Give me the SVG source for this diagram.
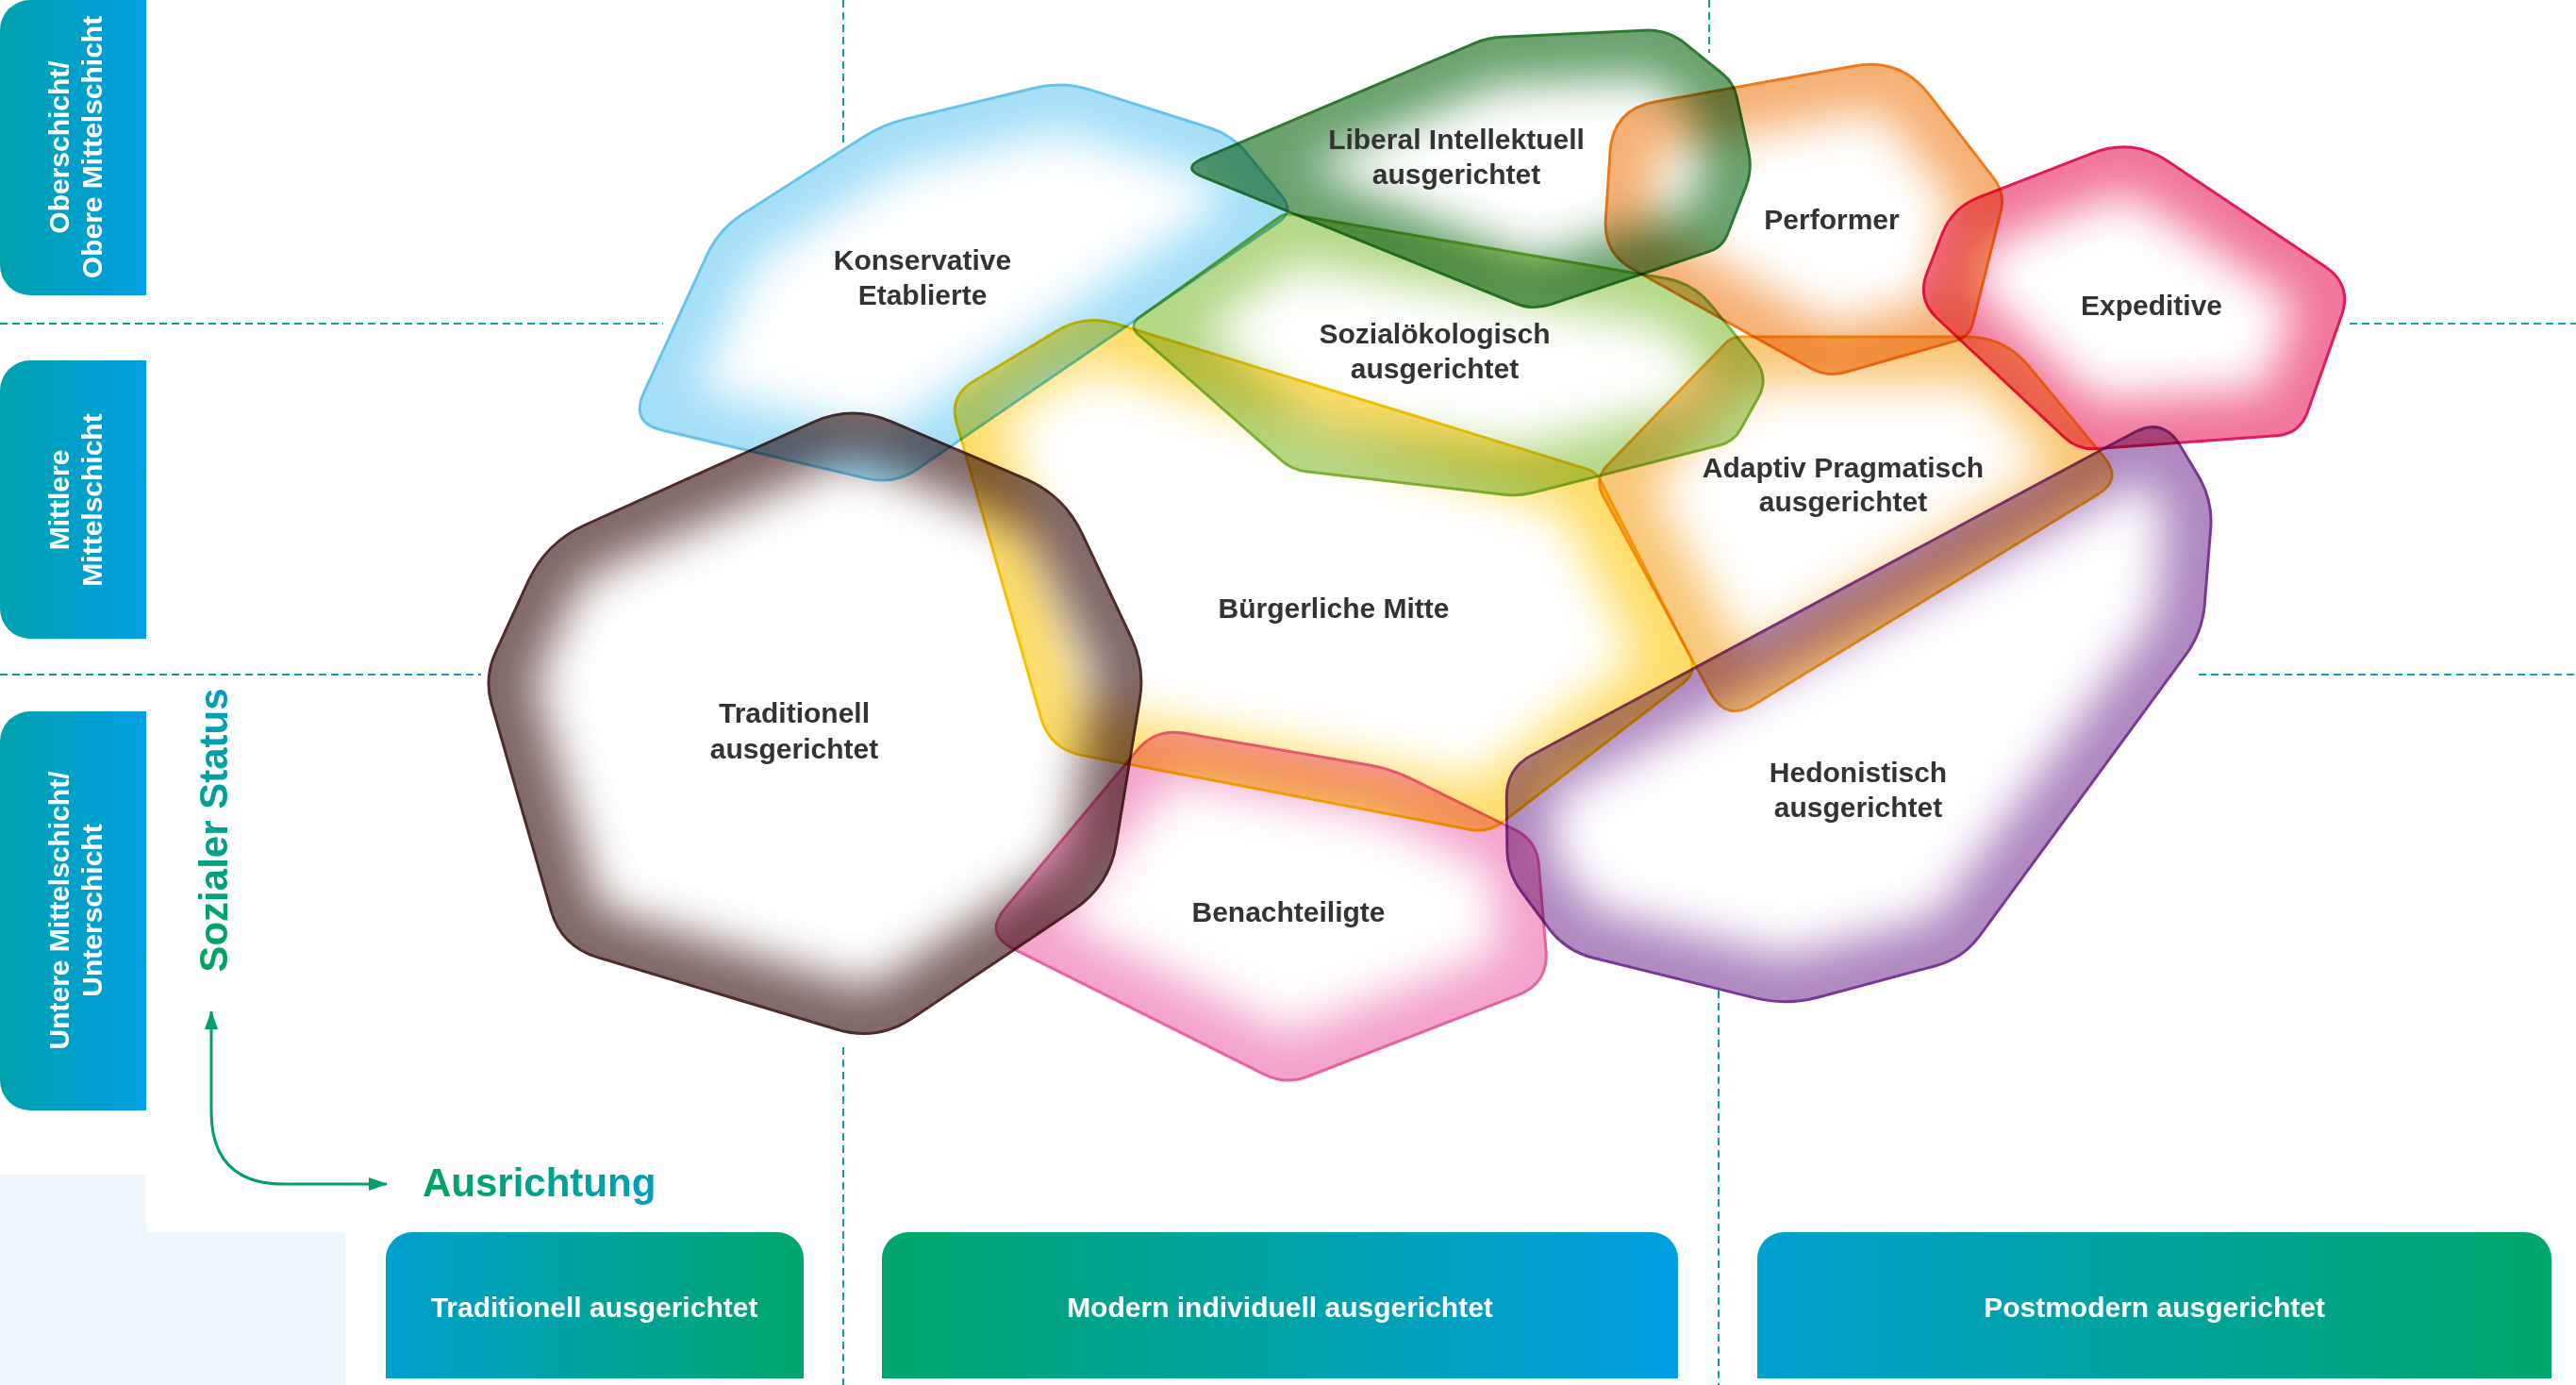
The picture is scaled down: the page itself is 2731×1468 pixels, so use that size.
<svg xmlns="http://www.w3.org/2000/svg" xmlns:xlink="http://www.w3.org/1999/xlink" width="2731" height="1468" viewBox="0 0 2731 1468">
<style>
.node{mix-blend-mode:multiply}
.glow{fill:none;stroke-width:100;filter:url(#blur);opacity:.62}
.edge{fill:none;stroke-width:3}
.lbl{font-family:"Liberation Sans",Arial,sans-serif;font-weight:bold;font-size:30px;fill:#333;text-anchor:middle}
.side{font-family:"Liberation Sans",Arial,sans-serif;font-weight:bold;font-size:30px;fill:#fff;text-anchor:middle}
.cat{font-family:"Liberation Sans",Arial,sans-serif;font-weight:bold;font-size:30px;fill:#fff;text-anchor:middle}
.axis{font-family:"Liberation Sans",Arial,sans-serif;font-weight:bold;font-size:42px}
.dash{fill:none;stroke-width:2;stroke-dasharray:8 5}
</style>
<defs>
<filter id="blur" filterUnits="userSpaceOnUse" x="0" y="0" width="2731" height="1468"><feGaussianBlur stdDeviation="24"/></filter>
<linearGradient id="gSide" x1="0" y1="0" x2="1" y2="0"><stop offset="0" stop-color="#00a2ae"/><stop offset="1" stop-color="#009fe3"/></linearGradient>
<linearGradient id="gBG" x1="0" y1="0" x2="1" y2="0"><stop offset="0" stop-color="#00a0d0"/><stop offset="1" stop-color="#00a66a"/></linearGradient>
<linearGradient id="gGB" x1="0" y1="0" x2="1" y2="0"><stop offset="0" stop-color="#00a66a"/><stop offset="1" stop-color="#009fe3"/></linearGradient>
<linearGradient id="gH1" gradientUnits="userSpaceOnUse" x1="0" y1="0" x2="700" y2="0"><stop offset="0" stop-color="#00a46c"/><stop offset="1" stop-color="#159fdc"/></linearGradient>
<linearGradient id="gH2" gradientUnits="userSpaceOnUse" x1="2331" y1="0" x2="2731" y2="0"><stop offset="0" stop-color="#00a6a0"/><stop offset="1" stop-color="#159fdc"/></linearGradient>
<linearGradient id="gSS" gradientUnits="userSpaceOnUse" x1="-151" y1="0" x2="151" y2="0"><stop offset="0" stop-color="#00a35c"/><stop offset="1" stop-color="#009fbf"/></linearGradient>
<linearGradient id="gAU" gradientUnits="userSpaceOnUse" x1="448" y1="0" x2="697" y2="0"><stop offset="0" stop-color="#00a35c"/><stop offset="1" stop-color="#009fbf"/></linearGradient>
<marker id="ah" viewBox="0 0 20 14" refX="19" refY="7" markerWidth="20" markerHeight="14" markerUnits="userSpaceOnUse" orient="auto-start-reverse"><path d="M0,0 L20,7 L0,14 Z" fill="#00a062"/></marker>
<path id="p-kons" d="M682.6,416.2 L749.5,270.3 Q762,243 787.3,226.9 L914.9,145.4 Q936,132 960.3,126.1 L1097.8,93 Q1127,86 1155.6,95.1 L1282.2,135.4 Q1306,143 1321.8,162.4 L1359.4,208.5 Q1372,224 1355.5,235.3 L972.8,497 Q948,514 918.8,507.1 L702.1,456 Q668,448 682.6,416.2 Z"/>
<path id="p-lib" d="M1275,168.2 L1563.2,45.9 Q1577,40 1592,39.3 L1743,32.2 Q1768,31 1787.4,46.8 L1826.4,78.5 Q1838,88 1841.2,102.7 L1853.7,160.4 Q1858,180 1850.7,198.6 L1831.5,248 Q1826,262 1811.8,266.7 L1644,322.7 Q1625,329 1606.5,321.5 L1275.2,187.4 Q1252,178 1275,168.2 Z"/>
<path id="p-soz" d="M1208.2,336.3 L1355.5,230.7 Q1362,226 1369.9,227.3 L1765.4,295 Q1795,300 1813.9,323.3 L1860.3,380.6 Q1876,400 1863.8,421.8 L1845.3,454.9 Q1838,468 1823.5,471.7 L1624.5,522.3 Q1610,526 1595.1,524.3 L1384.9,499.7 Q1370,498 1358.7,488.1 L1207.3,354.9 Q1196,345 1208.2,336.3 Z"/>
<path id="p-perf" d="M1702.3,233.1 L1707,160.9 Q1710,116 1754.3,108 L1965.8,69.9 Q2015,61 2045.5,100.6 L2113.8,189.2 Q2126,205 2121.1,224.4 L2091.6,342.4 Q2088,357 2073.6,361.1 L1956.2,394.5 Q1937,400 1919.5,390.3 L1730.6,285 Q1700,268 1702.3,233.1 Z"/>
<path id="p-exp" d="M2098,209.2 L2219,162.2 Q2261,146 2298.4,171 L2464.9,282.5 Q2494,302 2482.3,335 L2446.4,436.4 Q2438,460 2413.1,461.8 L2222.9,475.6 Q2203,477 2188.4,463.3 L2053.9,337.5 Q2032,317 2043,289.1 L2059,247.9 Q2070,220 2098,209.2 Z"/>
<path id="p-adapt" d="M1703.9,493.6 L1829,364.2 Q1836,357 1846,357 L2085,357 Q2125,357 2150.5,387.8 L2230.9,484.9 Q2250,508 2224.4,523.7 L1859.9,746.7 Q1830,765 1813.3,734.3 L1699.6,525.6 Q1690,508 1703.9,493.6 Z"/>
<path id="p-buerg" d="M1183.5,343.3 L1682.4,497.1 Q1692,500 1696.5,508.9 L1790.9,694.2 Q1800,712 1784.2,724.2 L1593.8,870.8 Q1578,883 1558.4,879.2 L1147.4,800.6 Q1113,794 1103.4,760.4 L1014.3,448.8 Q1006,420 1031.7,404.5 L1120,351.1 Q1150,333 1183.5,343.3 Z"/>
<path id="p-trad" d="M944.4,446.6 L1086.6,507.4 Q1128,525 1147.2,565.7 L1199.1,675.4 Q1214,707 1208.3,741.5 L1183.3,894.6 Q1176,939 1138.6,964.1 L967.4,1078.9 Q930,1104 886.9,1091 L633.3,1014.6 Q595,1003 584,964.6 L521.3,746.8 Q513,718 525.6,690.8 L560.1,615.9 Q579,575 620,556.5 L862,447.5 Q903,429 944.4,446.6 Z"/>
<path id="p-ben" d="M1254.6,777.1 L1450.4,810.8 Q1475,815 1497.4,826.1 L1606.6,879.9 Q1629,891 1631.2,915.9 L1639,1007.1 Q1642,1042 1609.4,1054.6 L1386.3,1141 Q1363,1150 1340.6,1138.8 L1074.3,1005.6 Q1043,990 1065.4,963.1 L1205.8,795 Q1225,772 1254.6,777.1 Z"/>
<path id="p-hedo" d="M2311.1,472 L2330.5,504.3 Q2346,530 2343.7,559.9 L2337.3,640.1 Q2335,670 2317.2,694.2 L2098.8,991.8 Q2081,1016 2052,1023.7 L1927.8,1057 Q1894,1066 1860,1057.6 L1689.1,1015.2 Q1660,1008 1642.1,984 L1613,945 Q1598,925 1597.8,900 L1597.3,845 Q1597,815 1623.4,800.8 L2262.2,458.5 Q2293,442 2311.1,472 Z"/>
<clipPath id="c-kons"><use href="#p-kons"/></clipPath>
<clipPath id="c-lib"><use href="#p-lib"/></clipPath>
<clipPath id="c-soz"><use href="#p-soz"/></clipPath>
<clipPath id="c-perf"><use href="#p-perf"/></clipPath>
<clipPath id="c-exp"><use href="#p-exp"/></clipPath>
<clipPath id="c-adapt"><use href="#p-adapt"/></clipPath>
<clipPath id="c-buerg"><use href="#p-buerg"/></clipPath>
<clipPath id="c-trad"><use href="#p-trad"/></clipPath>
<clipPath id="c-ben"><use href="#p-ben"/></clipPath>
<clipPath id="c-hedo"><use href="#p-hedo"/></clipPath>
</defs>
<rect width="2731" height="1468" fill="#fff"/>
<path d="M0,1245 H155 V1306 H366 V1468 H0 Z" fill="#eef6fc"/>

<g id="grid">
<line class="dash" x1="0" y1="343" x2="703" y2="343" stroke="url(#gH1)"/>
<line class="dash" x1="2491" y1="343" x2="2731" y2="343" stroke="url(#gH2)"/>
<line class="dash" x1="0" y1="715" x2="510" y2="715" stroke="url(#gH1)"/>
<line class="dash" x1="2331" y1="715" x2="2731" y2="715" stroke="url(#gH2)"/>
<line class="dash" x1="894" y1="0" x2="894" y2="156" stroke="#0aa39c"/>
<line class="dash" x1="894" y1="1110" x2="894" y2="1468" stroke="#0aa39c"/>
<line class="dash" x1="1812" y1="0" x2="1812" y2="56" stroke="#0aa39c"/>
<line class="dash" x1="1822" y1="1050" x2="1822" y2="1468" stroke="#0aa39c"/>
</g>

<g id="row-ober">
<path d="M155,0 V313 H32 A32,32 0 0 1 0,281 V32 A32,32 0 0 1 32,0 Z" fill="url(#gSide)"/>
<g transform="rotate(-90)"><text class="side" x="-156" y="73">Oberschicht/</text><text class="side" x="-156" y="108">Obere Mittelschicht</text></g>
</g>
<g id="row-mittel">
<path d="M155,382 V677 H32 A32,32 0 0 1 0,645 V414 A32,32 0 0 1 32,382 Z" fill="url(#gSide)"/>
<g transform="rotate(-90)"><text class="side" x="-530" y="73">Mittlere</text><text class="side" x="-530" y="108">Mittelschicht</text></g>
</g>
<g id="row-unter">
<path d="M155,754 V1177 H32 A32,32 0 0 1 0,1145 V786 A32,32 0 0 1 32,754 Z" fill="url(#gSide)"/>
<g transform="rotate(-90)"><text class="side" x="-965" y="73">Untere Mittelschicht/</text><text class="side" x="-965" y="108">Unterschicht</text></g>
</g>

<g id="col-trad">
<path d="M409,1461 V1334 A28,28 0 0 1 437,1306 H824 A28,28 0 0 1 852,1334 V1461 Z" fill="url(#gBG)"/>
<text class="cat" x="630" y="1396">Traditionell ausgerichtet</text>
</g>
<g id="col-modern">
<path d="M935,1461 V1334 A28,28 0 0 1 963,1306 H1751 A28,28 0 0 1 1779,1334 V1461 Z" fill="url(#gGB)"/>
<text class="cat" x="1357" y="1396">Modern individuell ausgerichtet</text>
</g>
<g id="col-post">
<path d="M1863,1461 V1334 A28,28 0 0 1 1891,1306 H2677 A28,28 0 0 1 2705,1334 V1461 Z" fill="url(#gBG)"/>
<text class="cat" x="2284" y="1396">Postmodern ausgerichtet</text>
</g>

<g id="axes">
<path d="M224,1072 V1178 Q224,1255 301,1255 H410" fill="none" stroke="#00a062" stroke-width="3" marker-start="url(#ah)" marker-end="url(#ah)"/>
<text class="axis" transform="translate(241,880) rotate(-90)" text-anchor="middle" fill="url(#gSS)">Sozialer Status</text>
<text class="axis" x="448" y="1268" fill="url(#gAU)">Ausrichtung</text>
</g>

<g id="n-kons" class="node">
<g clip-path="url(#c-kons)"><use href="#p-kons" class="glow" stroke="#6ccbf2"/></g>
<use href="#p-kons" class="edge" stroke="#66c4ec"/>
<text class="lbl" x="978" y="286">Konservative</text><text class="lbl" x="978" y="323">Etablierte</text>
</g>
<g id="n-trad" class="node">
<g clip-path="url(#c-trad)"><use href="#p-trad" class="glow" stroke="#5b3a3a" style="opacity:.78"/></g>
<use href="#p-trad" class="edge" stroke="#4f2c2c"/>
<text class="lbl" x="842" y="766">Traditionell</text><text class="lbl" x="842" y="804">ausgerichtet</text>
</g>
<g id="n-buerg" class="node">
<g clip-path="url(#c-buerg)"><use href="#p-buerg" class="glow" stroke="#fcc80a"/></g>
<use href="#p-buerg" class="edge" stroke="#f6c200"/>
<text class="lbl" x="1414" y="655">Bürgerliche Mitte</text>
</g>
<g id="n-soz" class="node">
<g clip-path="url(#c-soz)"><use href="#p-soz" class="glow" stroke="#86bf3d"/></g>
<use href="#p-soz" class="edge" stroke="#7ab534"/>
<text class="lbl" x="1521" y="364">Sozialökologisch</text><text class="lbl" x="1521" y="401">ausgerichtet</text>
</g>
<g id="n-lib" class="node">
<g clip-path="url(#c-lib)"><use href="#p-lib" class="glow" stroke="#2f7d34" style="opacity:.72"/></g>
<use href="#p-lib" class="edge" stroke="#2e7a32"/>
<text class="lbl" x="1544" y="158">Liberal Intellektuell</text><text class="lbl" x="1544" y="195">ausgerichtet</text>
</g>
<g id="n-perf" class="node">
<g clip-path="url(#c-perf)"><use href="#p-perf" class="glow" stroke="#f07f1c"/></g>
<use href="#p-perf" class="edge" stroke="#ee7a1a"/>
<text class="lbl" x="1942" y="243">Performer</text>
</g>
<g id="n-adapt" class="node">
<g clip-path="url(#c-adapt)"><use href="#p-adapt" class="glow" stroke="#f6a321"/></g>
<use href="#p-adapt" class="edge" stroke="#f3a01d"/>
<text class="lbl" x="1954" y="506">Adaptiv Pragmatisch</text><text class="lbl" x="1954" y="542">ausgerichtet</text>
</g>
<g id="n-exp" class="node">
<g clip-path="url(#c-exp)"><use href="#p-exp" class="glow" stroke="#e8245c"/></g>
<use href="#p-exp" class="edge" stroke="#e4195a"/>
<text class="lbl" x="2281" y="334">Expeditive</text>
</g>
<g id="n-ben" class="node">
<g clip-path="url(#c-ben)"><use href="#p-ben" class="glow" stroke="#ec6aa8"/></g>
<use href="#p-ben" class="edge" stroke="#e760a2"/>
<text class="lbl" x="1366" y="977">Benachteiligte</text>
</g>
<g id="n-hedo" class="node">
<g clip-path="url(#c-hedo)"><use href="#p-hedo" class="glow" stroke="#7d3c98"/></g>
<use href="#p-hedo" class="edge" stroke="#7a3895"/>
<text class="lbl" x="1970" y="829">Hedonistisch</text><text class="lbl" x="1970" y="866">ausgerichtet</text>
</g>
</svg>
